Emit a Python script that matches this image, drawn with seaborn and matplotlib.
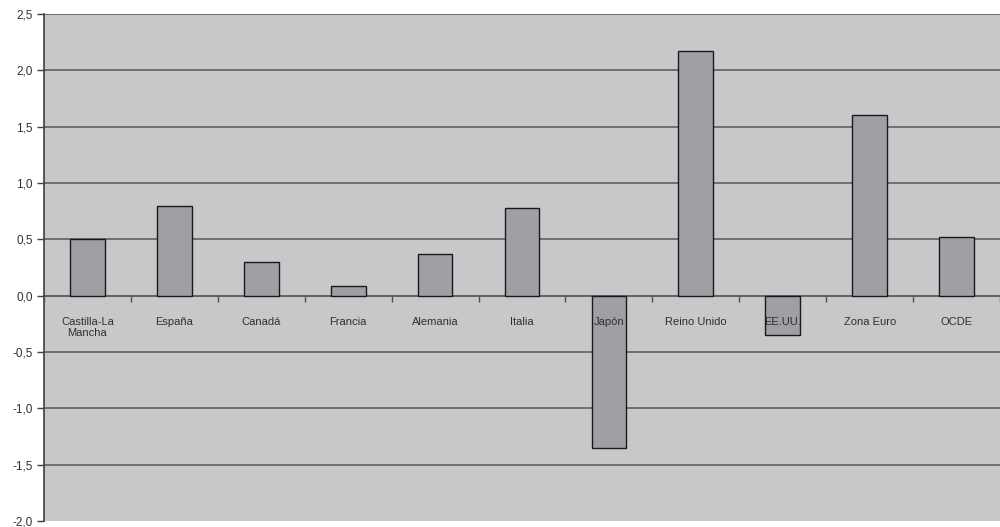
import numpy as np
import pandas as pd
import seaborn as sns
import matplotlib.pyplot as plt
from matplotlib.ticker import FixedLocator, FuncFormatter

# Data
paises = ["Castilla-La\nMancha", "España", "Canadá", "Francia", "Alemania", "Italia",
          "Japón", "Reino Unido", "EE.UU.", "Zona Euro", "OCDE"]
valores = [0.50, 0.80, 0.30, 0.09, 0.37, 0.78, -1.35, 2.17, -0.35, 1.60, 0.52]
y_ticks = [-2.0, -1.5, -1.0, -0.5, 0.0, 0.5, 1.0, 1.5, 2.0, 2.5]

df = pd.DataFrame({"pais": paises, "valor": valores})

sns.set_theme(style="white")
plt.rcParams["font.family"] = ["Liberation Sans", "DejaVu Sans"]

fig = plt.figure(figsize=(10, 5.27), dpi=100)
ax = fig.add_axes([0.044, 0.0114, 0.956, 0.962])
ax.set_facecolor("#c8c8ca")

sns.barplot(data=df, x="pais", y="valor", color="#a0a0a4", width=0.4,
            edgecolor="#1a1a1a", linewidth=1.0, saturation=1, ax=ax, zorder=3)

ax.set_ylim(-2.0, 2.5)
ax.set_xlim(-0.5, len(paises) - 0.5)
ax.set_yticks(y_ticks)
ax.yaxis.set_major_formatter(FuncFormatter(lambda v, p: f"{v:.1f}".replace(".", ",")))
for yv in y_ticks:
    if yv not in (-2.0, 0.0):
        ax.axhline(yv, color="#606060", linewidth=1.2, zorder=1)

# eje x sobre la linea del cero, por debajo de las barras
ax.spines["bottom"].set_position(("data", 0))
ax.spines["bottom"].set_color("#505050")
ax.spines["bottom"].set_linewidth(1.2)
ax.spines["bottom"].set_zorder(2)
ax.spines["left"].set_color("#404040")
ax.spines["left"].set_linewidth(1.2)
ax.spines["right"].set_visible(False)
ax.spines["top"].set_visible(False)

ax.xaxis.set_minor_locator(FixedLocator(np.arange(-0.5, len(paises), 1.0)))
ax.tick_params(axis="x", which="major", bottom=False, length=0, pad=15, labelsize=8,
               labelcolor="#303030")
ax.tick_params(axis="x", which="minor", bottom=True, length=4, width=1, color="#505050",
               direction="out")
ax.tick_params(axis="y", which="major", left=True, length=5, width=1, color="#404040",
               direction="out", labelsize=8.5, labelcolor="#303030", pad=3)
ax.xaxis.set_zorder(5)
for lbl in ax.get_xticklabels():
    lbl.set_verticalalignment("top")
    lbl.set_multialignment("center")
ax.set_xlabel("")
ax.set_ylabel("")

fig.savefig("out.png", dpi=100)
